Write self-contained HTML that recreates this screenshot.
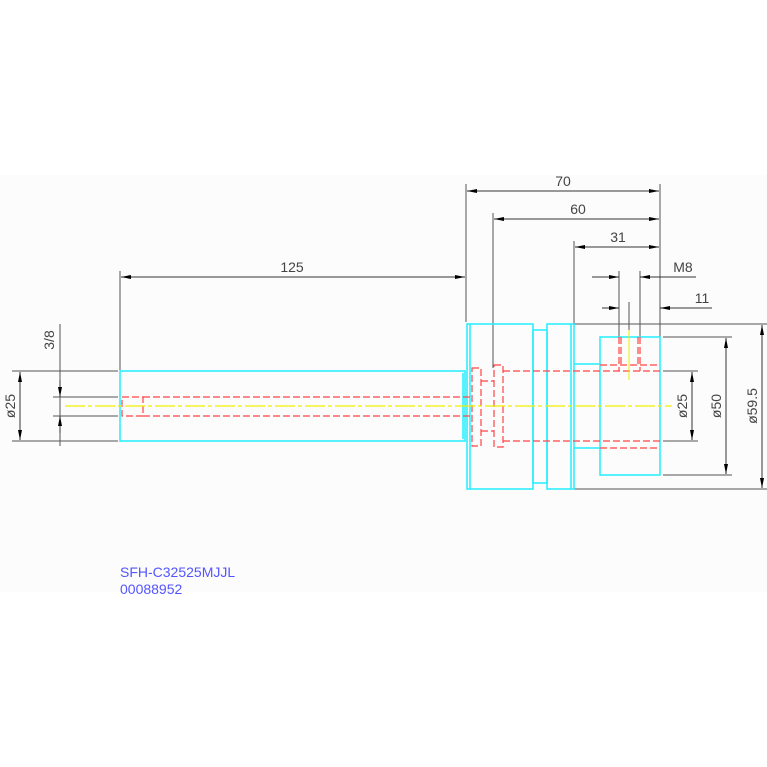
<!DOCTYPE html>
<html><head><style>html,body{margin:0;padding:0;background:#fff}svg{display:block}</style></head><body>
<svg width="767" height="767" viewBox="0 0 767 767" xmlns="http://www.w3.org/2000/svg" font-family="Liberation Sans, sans-serif">
<defs>
<marker id="a" viewBox="0 0 10 4" refX="10" refY="2" markerWidth="10" markerHeight="4" markerUnits="userSpaceOnUse" orient="auto-start-reverse"><path d="M0,0L10,2L0,4z" fill="#000"/></marker>
</defs>
<rect x="0" y="175" width="767" height="417" fill="#fbfcfb"/>
<g stroke="#555" stroke-width="1" fill="none">
<line x1="466" y1="184" x2="466" y2="322"/>
<line x1="660" y1="184" x2="660" y2="337"/>
<line x1="493" y1="213" x2="493" y2="368"/>
<line x1="574" y1="241" x2="574" y2="324"/>
<line x1="619" y1="271" x2="619" y2="337"/>
<line x1="640" y1="271" x2="640" y2="337"/>
<line x1="629" y1="302" x2="629" y2="337"/>
<line x1="120" y1="271" x2="120" y2="370"/>
<line x1="574" y1="324" x2="767" y2="324"/>
<line x1="574" y1="489" x2="767" y2="489"/>
<line x1="663" y1="337" x2="732" y2="337"/>
<line x1="663" y1="475" x2="732" y2="475"/>
<line x1="663" y1="371" x2="698" y2="371"/>
<line x1="663" y1="441" x2="698" y2="441"/>
<line x1="12" y1="371" x2="118" y2="371"/>
<line x1="12" y1="441" x2="118" y2="441"/>
<line x1="53" y1="397" x2="118" y2="397"/>
<line x1="53" y1="416" x2="118" y2="416"/>
<line x1="60" y1="324" x2="60" y2="446"/>
</g>
<g stroke="#333" stroke-width="1" fill="none" marker-start="url(#a)" marker-end="url(#a)">
<line x1="467" y1="191" x2="659" y2="191"/>
<line x1="494" y1="219" x2="659" y2="219"/>
<line x1="575" y1="247" x2="659" y2="247"/>
<line x1="121" y1="277" x2="465" y2="277"/>
<line x1="692" y1="372" x2="692" y2="440"/>
<line x1="726" y1="338" x2="726" y2="474"/>
<line x1="762" y1="325" x2="762" y2="488"/>
<line x1="20" y1="372" x2="20" y2="440"/>
</g>
<g stroke="#333" stroke-width="1" fill="none">
<line x1="592" y1="277" x2="619" y2="277" marker-end="url(#a)"/>
<line x1="696" y1="277" x2="640" y2="277" marker-end="url(#a)"/>
<line x1="602" y1="308" x2="619" y2="308" marker-end="url(#a)"/>
<line x1="712" y1="308" x2="660" y2="308" marker-end="url(#a)"/>
<line x1="60" y1="380" x2="60" y2="397" marker-end="url(#a)"/>
<line x1="60" y1="433" x2="60" y2="416" marker-end="url(#a)"/>
</g>
<g stroke="#2ef" stroke-width="1.5" fill="none">
<rect x="120" y="371" width="345" height="70"/>
<line x1="463" y1="373" x2="463" y2="439"/>
<rect x="467" y="324" width="66" height="165"/>
<line x1="470" y1="324" x2="470" y2="489"/>
<rect x="533" y="330" width="14" height="153"/>
<rect x="547" y="324" width="27" height="165"/>
<line x1="571" y1="324" x2="571" y2="489"/>
<line x1="574" y1="364" x2="600" y2="364"/>
<line x1="574" y1="448" x2="600" y2="448"/>
<rect x="600" y="337" width="60" height="138"/>
</g>
<g stroke="#f44" stroke-width="1.2" fill="none" stroke-dasharray="7,3">
<line x1="143" y1="397" x2="463" y2="397"/>
<line x1="143" y1="416" x2="463" y2="416"/>
<rect x="122" y="397" width="21" height="19"/>
<rect x="472" y="368" width="9" height="78"/>
<rect x="494" y="365" width="9" height="82"/>
<line x1="481" y1="381" x2="494" y2="381"/>
<line x1="481" y1="431" x2="494" y2="431"/>
<line x1="463" y1="397" x2="472" y2="397"/>
<line x1="463" y1="416" x2="472" y2="416"/>
<line x1="503" y1="371" x2="660" y2="371"/>
<line x1="503" y1="441" x2="660" y2="441"/>
<line x1="600" y1="365" x2="660" y2="365"/>
<line x1="600" y1="448" x2="660" y2="448"/>
<line x1="619" y1="337" x2="619" y2="371"/>
<line x1="640" y1="337" x2="640" y2="371"/>
<line x1="621" y1="337" x2="621" y2="365"/>
<line x1="638" y1="337" x2="638" y2="365"/>
</g>
<line x1="65" y1="406" x2="672" y2="406" stroke="#ee0" stroke-width="1.2" stroke-dasharray="20,3,4,3"/>
<line x1="629" y1="330" x2="629" y2="380" stroke="#ee0" stroke-width="1"/>
<g fill="#444" font-size="14">
<text x="292" y="272" text-anchor="middle">125</text>
<text x="563" y="186" text-anchor="middle">70</text>
<text x="578" y="214" text-anchor="middle">60</text>
<text x="618" y="242" text-anchor="middle">31</text>
<text x="683" y="272" text-anchor="middle">M8</text>
<text x="702" y="303" text-anchor="middle">11</text>
<text transform="translate(687,406) rotate(-90)" text-anchor="middle">ø25</text>
<text transform="translate(721,406) rotate(-90)" text-anchor="middle">ø50</text>
<text transform="translate(757,406) rotate(-90)" text-anchor="middle">ø59.5</text>
<text transform="translate(15,406) rotate(-90)" text-anchor="middle">ø25</text>
<text transform="translate(54,340) rotate(-90)" text-anchor="middle">3/8</text>
</g>
<g fill="#55f" font-size="14">
<text x="120" y="577">SFH-C32525MJJL</text>
<text x="120" y="594">00088952</text>
</g>
</svg>
</body></html>
